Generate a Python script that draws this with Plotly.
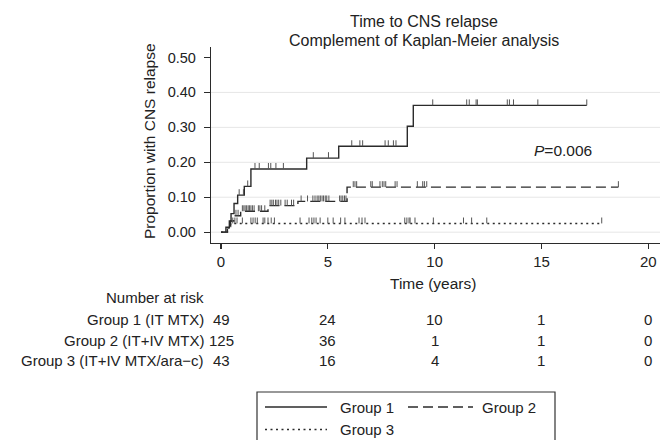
import plotly.graph_objects as go
import bisect

# ---------------- data ----------------
groups = ["Group 1", "Group 2", "Group 3"]
group_labels = ["Group 1 (IT MTX)", "Group 2 (IT+IV MTX)", "Group 3 (IT+IV MTX/ara\u2212c)"]

times1 = [0, 0.23, 0.39, 0.47, 0.61, 0.78, 1.09, 1.40, 4.01, 5.51, 8.72, 9.00]
vals1 = [0, 0.014, 0.032, 0.053, 0.082, 0.106, 0.131, 0.181, 0.212, 0.246, 0.303, 0.363]
end1 = 17.12
cens1 = [0.85, 1.05, 1.25, 1.59, 1.79, 2.22, 2.33, 2.57, 2.92, 4.32, 5.03, 6.12, 6.50, 6.63,
         7.68, 7.83, 8.07, 8.19, 9.91, 11.50, 11.62, 11.94, 12.00, 13.40, 13.50, 13.69, 14.83, 17.12]

times2 = [0, 0.30, 0.45, 0.60, 0.92, 2.20, 3.60, 5.90]
vals2 = [0, 0.016, 0.032, 0.047, 0.060, 0.076, 0.088, 0.129]
end2 = 18.6
cens2 = [0.70, 0.80, 1.00, 1.07, 1.13, 1.20, 1.27, 1.33, 1.40, 1.47, 1.55, 1.75, 1.82, 1.90, 2.05,
         2.30, 2.38, 2.45, 2.55, 2.62, 2.70, 2.80, 3.00, 3.10, 3.30, 3.40,
         3.75, 4.05, 4.30, 4.40, 4.50, 4.58, 4.65, 4.73, 4.80, 4.88, 4.95, 5.05, 5.55, 5.62, 5.70, 5.78, 5.85,
         6.19, 6.27, 6.35, 7.01, 7.08, 7.44, 7.55, 7.63, 7.71, 8.15, 8.24, 9.19, 9.44, 9.52, 9.63, 18.6]

times3 = [0, 0.30, 0.45]
vals3 = [0, 0.012, 0.025]
end3 = 17.82
cens3 = [0.55, 0.65, 0.75, 1.00, 1.40, 1.50, 1.60, 1.70, 1.97, 2.05, 2.20, 2.35, 2.50, 3.70, 4.12, 4.25,
         4.35, 4.45, 4.64, 5.00, 5.25, 5.60, 5.80, 6.46, 6.60, 6.74, 8.60, 8.70, 8.80, 8.85, 9.08, 9.94,
         11.35, 11.73, 12.44, 17.82]

risk_times = [0, 5, 10, 15, 20]
risk1 = [49, 24, 10, 1, 0]
risk2 = [125, 36, 1, 1, 0]
risk3 = [43, 16, 4, 1, 0]

x_ticks = [0, 5, 10, 15, 20]
y_ticks = [0, 0.1, 0.2, 0.3, 0.4, 0.5]
p_text = "<i>P</i>=0.006"
p_pos = (16.0, 0.235)

# ---------------- styling ----------------
FONT = "Liberation Sans, Arial, Helvetica, sans-serif"
TXT = "#222222"
LINE = "#2b2b2b"
TICKC = "#555555"
dashes = ["solid", "10px,5px", "2px,3.5px"]

W, H = 660, 440
# plot area in window pixels: x 211..660, y 47..243
L, T, R = 211, 47, 0
B = H - 243
PW, PH = W - L - R, H - T - B


def px_x(px):
    return (px - L) / PW


def px_y(py):
    return (T + PH - py) / PH


fig = go.Figure()

series = [(times1, vals1, end1, cens1), (times2, vals2, end2, cens2), (times3, vals3, end3, cens3)]
tick_len = 0.017

for (ts, vs, end, cens), name, dash in zip(series, groups, dashes):
    xs = list(ts) + [end]
    ys = list(vs) + [vs[-1]]
    fig.add_trace(go.Scatter(x=xs, y=ys, mode="lines", line_shape="hv", name=name,
                             line=dict(color=LINE, width=1.4, dash=dash),
                             showlegend=False, hoverinfo="skip"))
    cx, cy = [], []
    for c in cens:
        i = bisect.bisect_right(ts, c) - 1
        v = vs[max(i, 0)]
        cx += [c, c, None]
        cy += [v, v + tick_len, None]
    fig.add_trace(go.Scatter(x=cx, y=cy, mode="lines", line=dict(color=TICKC, width=1),
                             showlegend=False, hoverinfo="skip"))

# gridlines (all ticks except the top)
for yv in y_ticks[:-1]:
    fig.add_shape(type="line", xref="paper", yref="y", x0=0, x1=1, y0=yv, y1=yv,
                  line=dict(color="#e6e6e6", width=1), layer="below")

ann = []
# title
ann.append(dict(text="Time to CNS relapse", x=px_x(424), y=px_y(21.5), xref="paper", yref="paper",
                showarrow=False, xanchor="center", yanchor="middle", font=dict(size=16, color=TXT)))
ann.append(dict(text="Complement of Kaplan-Meier analysis", x=px_x(424), y=px_y(40.5), xref="paper",
                yref="paper", showarrow=False, xanchor="center", yanchor="middle",
                font=dict(size=16, color=TXT)))
# y title
ann.append(dict(text="Proportion with CNS relapse", x=px_x(149), y=px_y(141), xref="paper", yref="paper",
                showarrow=False, textangle=-90, xanchor="center", yanchor="middle",
                font=dict(size=15.5, color=TXT)))
# x title
ann.append(dict(text="Time (years)", x=px_x(433), y=px_y(283), xref="paper", yref="paper",
                showarrow=False, xanchor="center", yanchor="middle", font=dict(size=15.5, color=TXT)))
# P value
ann.append(dict(text=p_text, x=p_pos[0], y=p_pos[1], xref="x", yref="y", showarrow=False,
                xanchor="center", yanchor="middle", font=dict(size=15.5, color=TXT)))

# risk table
ann.append(dict(text="Number at risk", x=px_x(206), y=px_y(297), xref="paper", yref="paper",
                showarrow=False, xanchor="right", yanchor="middle", font=dict(size=15, color=TXT)))
row_y = [319.5, 340, 360.5]
for lab, risk, ry in zip(group_labels, [risk1, risk2, risk3], row_y):
    ann.append(dict(text=lab, x=px_x(206), y=px_y(ry), xref="paper", yref="paper", showarrow=False,
                    xanchor="right", yanchor="middle", font=dict(size=15, color=TXT)))
    for t, n in zip(risk_times, risk):
        ann.append(dict(text=str(n), x=t, y=px_y(ry), xref="x", yref="paper", showarrow=False,
                        xanchor="center", yanchor="middle", font=dict(size=15, color=TXT)))

# legend (manual box)
fig.add_shape(type="rect", xref="paper", yref="paper", x0=px_x(257), x1=px_x(555), y0=px_y(452),
              y1=px_y(392), line=dict(color="#333333", width=1.2), fillcolor="white")
leg_items = [(groups[0], dashes[0], 265, 327, 338, 407),
             (groups[1], dashes[1], 408, 473, 480, 407),
             (groups[2], dashes[2], 265, 327, 338, 429.5)]
for name, dash, x0, x1, tx, ly in leg_items:
    fig.add_shape(type="line", xref="paper", yref="paper", x0=px_x(x0), x1=px_x(x1),
                  y0=px_y(ly), y1=px_y(ly), line=dict(color=LINE, width=1.4, dash=dash))
    ann.append(dict(text=name, x=px_x(tx), y=px_y(ly), xref="paper", yref="paper", showarrow=False,
                    xanchor="left", yanchor="middle", font=dict(size=15, color=TXT)))

# x range so that t=0 sits at x=221 and t=20 at x=648 (px), axis spans 211..660
x0r = (211 - 221) / ((648.3 - 221) / 20)
x1r = (660 - 221) / ((648.3 - 221) / 20)

fig.update_layout(
    width=W, height=H,
    margin=dict(l=L, r=R, t=T, b=B, pad=0),
    paper_bgcolor="white", plot_bgcolor="white",
    font=dict(family=FONT, color=TXT),
    showlegend=False,
    hovermode=False,
    annotations=ann,
    xaxis=dict(range=[x0r, x1r], tickvals=x_ticks, ticktext=[str(v) for v in x_ticks],
               ticks="outside", ticklen=5, tickcolor=LINE, tickwidth=1.2,
               showline=True, linecolor=LINE, linewidth=1.2, showgrid=False, zeroline=False,
               tickfont=dict(size=15, color=TXT), fixedrange=True, ticklabeloverflow="allow"),
    yaxis=dict(range=[-0.031, 0.53], tickvals=y_ticks, ticktext=[f"{v:.2f}" for v in y_ticks],
               ticks="outside", ticklen=6, tickcolor=LINE, tickwidth=1.2,
               showline=True, linecolor=LINE, linewidth=1.2, showgrid=False, zeroline=False,
               tickfont=dict(size=14.5, color=TXT), fixedrange=True, ticklabelstandoff=5),
)

# remove the default page margin so the 660x440 figure fills the window exactly
fig.write_html("out.html",
               config={"displayModeBar": False, "staticPlot": True},
               post_script="document.body.style.margin='0';"
                           "document.documentElement.style.overflow='hidden';")
